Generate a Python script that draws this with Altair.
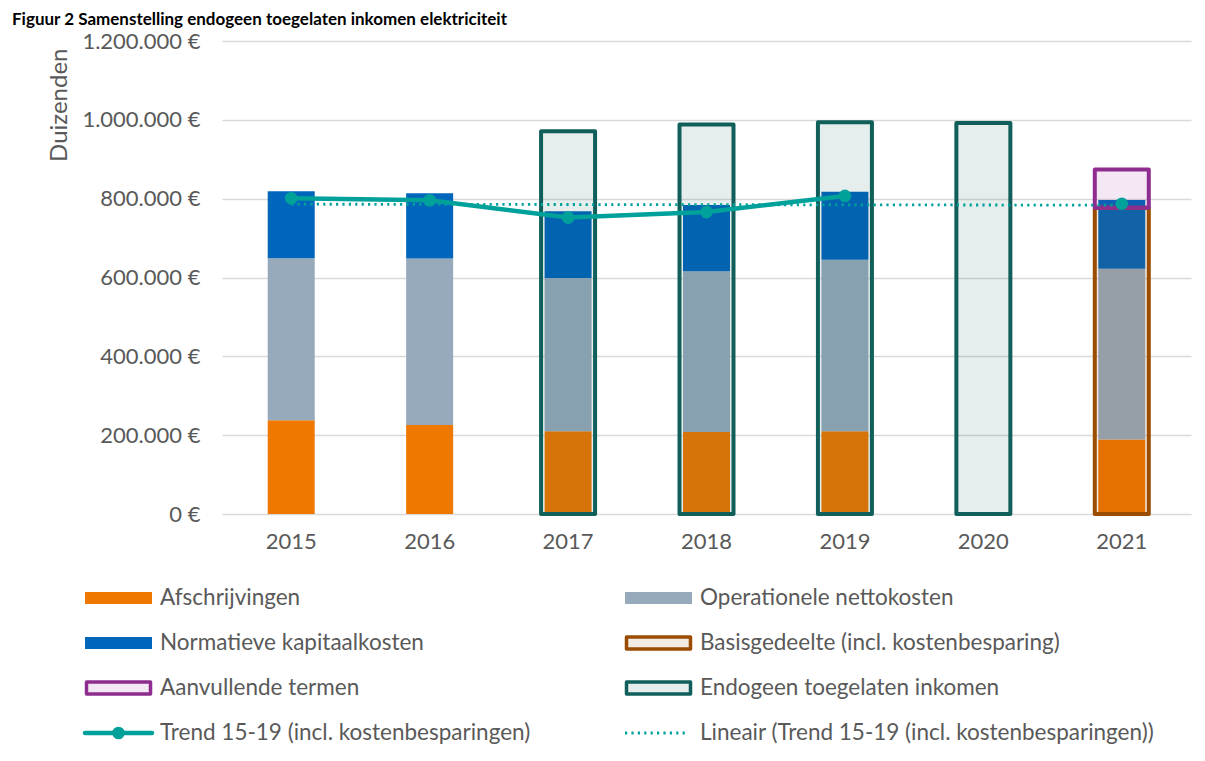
import altair as alt
import pandas as pd

# ---------------- data ----------------
years = ["2015", "2016", "2017", "2018", "2019", "2020", "2021"]

afschrijvingen = [238000, 226000, 210000, 208000, 210000, None, 189000]
operationele = [411000, 422000, 389000, 408000, 435000, None, 433000]
normatieve = [170000, 165500, 169000, 168000, 172500, None, 174500]

endogeen = [None, None, 971000, 988000, 994000, 992000, None]
basisgedeelte = [None, None, None, None, None, None, 777000]
aanvullende = [None, None, None, None, None, None, 97000]

trend = [801000, 796000, 752000, 766000, 807000, None, 787000]
lineair_years = ["2015", "2021"]
lineair = [786000, 783500]

y_ticks = [0, 200000, 400000, 600000, 800000, 1000000, 1200000]

stack_names = ["Afschrijvingen", "Operationele nettokosten", "Normatieve kapitaalkosten"]
outline_names = ["Basisgedeelte (incl. kostenbesparing)", "Aanvullende termen",
                 "Endogeen toegelaten inkomen"]
trend_name = "Trend 15-19 (incl. kostenbesparingen)"
lineair_name = "Lineair (Trend 15-19 (incl. kostenbesparingen))"

legend_labels = ["Afschrijvingen", "Operationele nettokosten",
                 "Normatieve kapitaalkosten", "Basisgedeelte (incl. kostenbesparing)",
                 "Aanvullende termen", "Endogeen toegelaten inkomen",
                 trend_name, lineair_name]
legend_kinds = ["fill", "fill", "fill", "outline", "outline", "outline", "trend", "dotted"]

title_text = "Figuur 2 Samenstelling endogeen toegelaten inkomen elektriciteit"

# ---------------- styles ----------------
series_domain = stack_names + outline_names
series_colors = ["#EF7800", "#96AABC", "#0066BB", "#9A4C00", "#8E2C90", "#115F5B"]
teal = "#00A19A"
text_col = "#595959"
FONT = "Lato"

W, H = 969, 473

# ---------------- tables ----------------
rows = []
for i, y in enumerate(years):
    for k, (name, vals) in enumerate(zip(stack_names, [afschrijvingen, operationele, normatieve])):
        if vals[i] is not None:
            rows.append({"year": y, "series": name, "value": vals[i], "ord": k})
stack_df = pd.DataFrame(rows)

rows = []
for i, y in enumerate(years):
    if basisgedeelte[i] is not None:
        rows.append({"year": y, "series": outline_names[0], "y0": 0, "y1": basisgedeelte[i]})
    if aanvullende[i] is not None:
        base = basisgedeelte[i] or 0
        rows.append({"year": y, "series": outline_names[1], "y0": base, "y1": base + aanvullende[i]})
    if endogeen[i] is not None:
        rows.append({"year": y, "series": outline_names[2], "y0": 0, "y1": endogeen[i]})
outline_df = pd.DataFrame(rows)

rows = []
seg = 0
for i, y in enumerate(years):
    if trend[i] is None:
        seg += 1
        continue
    rows.append({"year": y, "value": trend[i], "seg": seg})
trend_df = pd.DataFrame(rows)

lin_df = pd.DataFrame({"year": lineair_years, "value": lineair})

leg_df = pd.DataFrame({
    "label": legend_labels,
    "kind": legend_kinds,
    "col": [i % 2 for i in range(len(legend_labels))],
    "row": [i // 2 for i in range(len(legend_labels))],
})

# ---------------- scales / encodings ----------------
cscale = alt.Scale(domain=series_domain, range=series_colors)
xscale = alt.Scale(domain=years, paddingInner=0.2, paddingOuter=0.1)
yscale = alt.Scale(domain=[0, 1200000], nice=False)

x_axis = alt.Axis(title=None, labelAngle=0, labelPadding=17, domain=False, ticks=False,
                  grid=False, labelFont=FONT, labelFontSize=22, labelColor=text_col)
y_axis = alt.Axis(title="Duizenden", values=y_ticks,
                  labelExpr="replace(replace(format(datum.value, ',.0f'), ',', '.'), ',', '.') + ' €'",
                  domain=False, ticks=False, labelPadding=22, labelFont=FONT,
                  labelFontSize=22, labelColor=text_col, titleFont=FONT, titleFontSize=24,
                  titleFontWeight="normal", titleColor=text_col, titleAnchor="end",
                  titleY=7, titlePadding=10, gridColor="#D9D9D9", gridWidth=1.4)

X = alt.X("year:N", sort=years, scale=xscale, axis=x_axis)

stack = alt.Chart(stack_df).mark_bar(size=47).encode(
    x=X,
    y=alt.Y("value:Q", stack="zero", scale=yscale, axis=y_axis, title="Duizenden"),
    fill=alt.Fill("series:N", scale=cscale, legend=None),
    order=alt.Order("ord:Q"),
)

outline = alt.Chart(outline_df).mark_bar(size=54, strokeWidth=4, fillOpacity=0.11,
                                         strokeJoin="round").encode(
    x=X,
    y=alt.Y("y0:Q", scale=yscale, axis=y_axis, title="Duizenden"),
    y2="y1:Q",
    fill=alt.Fill("series:N", scale=cscale, legend=None),
    stroke=alt.Stroke("series:N", scale=cscale, legend=None),
)

lin = alt.Chart(lin_df).mark_line(color=teal, strokeWidth=2.8, strokeDash=[2.2, 4.2]).encode(
    x=X, y=alt.Y("value:Q", scale=yscale, axis=y_axis, title="Duizenden"),
)

tline = alt.Chart(trend_df).mark_line(color=teal, strokeWidth=4.5).encode(
    x=X, y=alt.Y("value:Q", scale=yscale, axis=y_axis, title="Duizenden"),
    detail="seg:N",
)
tpts = alt.Chart(trend_df).mark_circle(color=teal, size=160, opacity=1).encode(
    x=X, y=alt.Y("value:Q", scale=yscale, axis=y_axis, title="Duizenden"),
)

main = alt.layer(stack, outline, lin, tline, tpts)

# ---------------- legend (own scales) ----------------
lx = alt.Scale(domain=[0, 1], range=[-137, 403])
ly = alt.Scale(domain=[0, 3], range=[557, 692])
LX = alt.X("col:Q", scale=lx, axis=None)
LY = alt.Y("row:Q", scale=ly, axis=None)
SYM = 67

base = alt.Chart(leg_df)
leg_fill = base.transform_filter("datum.kind == 'fill'").mark_rect(
    x2Offset=SYM, yOffset=-6, y2Offset=6).encode(
    x=LX, x2="col:Q", y=LY, y2="row:Q",
    fill=alt.Fill("label:N", scale=cscale, legend=None))
leg_out = base.transform_filter("datum.kind == 'outline'").mark_rect(
    xOffset=1.5, x2Offset=SYM - 1.5, yOffset=-6, y2Offset=6, strokeWidth=3.5,
    fillOpacity=0.11, strokeJoin="round").encode(
    x=LX, x2="col:Q", y=LY, y2="row:Q",
    fill=alt.Fill("label:N", scale=cscale, legend=None),
    stroke=alt.Stroke("label:N", scale=cscale, legend=None))
leg_tr = base.transform_filter("datum.kind == 'trend'").mark_rule(
    x2Offset=SYM, color=teal, strokeWidth=4.5, strokeCap="round").encode(
    x=LX, x2="col:Q", y=LY)
leg_tp = base.transform_filter("datum.kind == 'trend'").mark_circle(
    xOffset=SYM / 2, color=teal, size=160, opacity=1).encode(x=LX, y=LY)
leg_dot = base.transform_filter("datum.kind == 'dotted'").mark_rule(
    x2Offset=SYM - 4, color=teal, strokeWidth=2.8, strokeDash=[2.2, 4.2]).encode(
    x=LX, x2="col:Q", y=LY)
leg_txt = base.mark_text(align="left", baseline="middle", dx=SYM + 8, font=FONT,
                         fontSize=22.5, color=text_col).encode(x=LX, y=LY, text="label:N")

legend = alt.layer(leg_fill, leg_out, leg_tr, leg_tp, leg_dot, leg_txt)

chart = alt.layer(main, legend).resolve_scale(x="independent", y="independent").properties(
    width=W, height=H,
    padding={"left": 4, "top": 3, "right": 5, "bottom": 5},
    title=alt.TitleParams(title_text, anchor="start", frame="group", dx=-210,
                          font=FONT, fontSize=17, fontWeight="bold", color="black",
                          offset=1),
).configure_view(stroke=None)

chart.save("out.html", embed_options={"renderer": "svg", "actions": False})
